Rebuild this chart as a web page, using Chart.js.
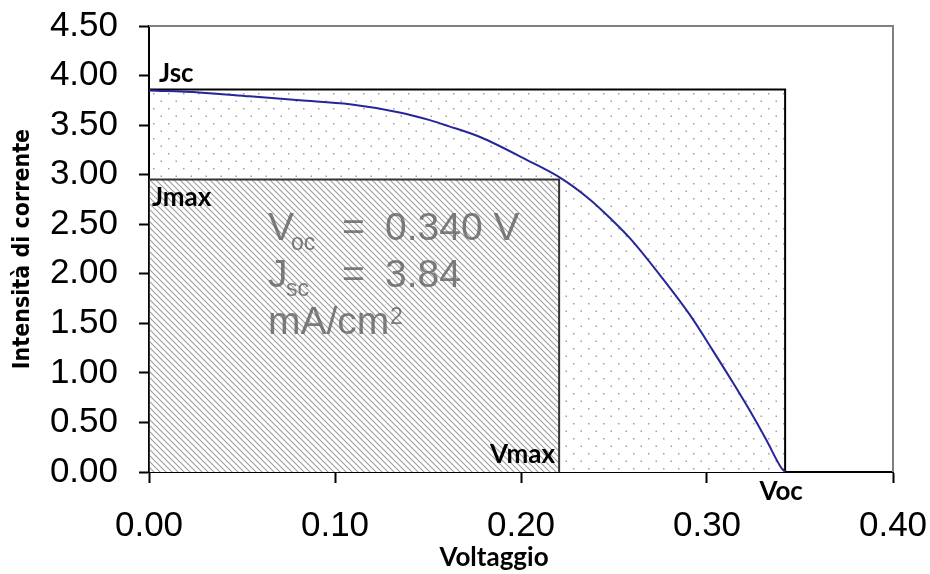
<!DOCTYPE html>
<html>
<head>
<meta charset="utf-8">
<script src="https://cdn.jsdelivr.net/npm/chart.js@4.4.1/dist/chart.umd.min.js"></script>
<style>
  html, body { margin: 0; padding: 0; background: #fff; }
  #wrap { width: 930px; height: 574px; }
</style>
</head>
<body>
<div id="wrap"><canvas id="ivChart"></canvas></div>
<script>
// curva J-V
var voltaggio = [0, 0.027, 0.054, 0.081, 0.108, 0.134, 0.151, 0.161, 0.178, 0.203, 0.221, 0.237, 0.248, 0.259, 0.275, 0.291, 0.303, 0.314, 0.323, 0.332, 0.340, 0.342];
var corrente  = [3.85, 3.83, 3.79, 3.75, 3.71, 3.63, 3.55, 3.49, 3.38, 3.15, 2.97, 2.75, 2.56, 2.35, 1.98, 1.58, 1.23, 0.90, 0.62, 0.32, 0.04, 0];

// rettangoli Jsc x Voc e Jmax x Vmax
var rettVoc = [0, 0.342];
var rettJsc = [0, 3.86];
var rettVmax = [0, 0.2205];
var rettJmax = [0, 2.95];

var xTicks = ['0.00', '0.10', '0.20', '0.30', '0.40'];
var yTicks = ['0.00', '0.50', '1.00', '1.50', '2.00', '2.50', '3.00', '3.50', '4.00', '4.50'];

function boxPoints(xs, ys) {
    return [
        { x: xs[0], y: ys[0] },
        { x: xs[0], y: ys[1] },
        { x: xs[1], y: ys[1] },
        { x: xs[1], y: ys[0] }
    ];
}

function dotPattern() {
    var c = document.createElement('canvas');
    c.width = 15; c.height = 15;
    var g = c.getContext('2d');
    g.fillStyle = '#fff';
    g.fillRect(0, 0, 15, 15);
    g.fillStyle = '#a0a0a0';
    g.fillRect(3, 3, 1.5, 1.5);
    g.fillRect(10.5, 10.5, 1.5, 1.5);
    return g.createPattern(c, 'repeat');
}

function hatchPattern() {
    var c = document.createElement('canvas');
    c.width = 6; c.height = 6;
    var g = c.getContext('2d');
    g.fillStyle = '#fff';
    g.fillRect(0, 0, 6, 6);
    g.strokeStyle = '#a0a0a0';
    g.lineWidth = 1.2;
    g.beginPath();
    g.moveTo(-1, -1); g.lineTo(7, 7);
    g.moveTo(-4, 2); g.lineTo(4, 10);
    g.moveTo(2, -4); g.lineTo(10, 4);
    g.stroke();
    return g.createPattern(c, 'repeat');
}

var labelsPlugin = {
    id: 'labelsPlugin',
    afterDraw: function (chart) {
        var ctx = chart.ctx;
        var a = chart.chartArea;
        var xs = chart.scales.x, ys = chart.scales.y;
        ctx.save();

        // bordo grigio dell'area del grafico
        ctx.strokeStyle = '#808080';
        ctx.lineWidth = 2;
        ctx.beginPath();
        ctx.moveTo(a.left, a.top);
        ctx.lineTo(a.right, a.top);
        ctx.lineTo(a.right, a.bottom);
        ctx.stroke();

        // etichette in grassetto
        ctx.fillStyle = '#000';
        ctx.font = 'bold 26px Lato';
        ctx.textBaseline = 'alphabetic';
        ctx.textAlign = 'left';
        ctx.fillText('Jsc', a.left + 10, ys.getPixelForValue(rettJsc[1]) - 7);
        ctx.fillText('Jmax', a.left + 3, ys.getPixelForValue(rettJmax[1]) + 26);
        ctx.textAlign = 'right';
        ctx.fillText('Vmax', xs.getPixelForValue(rettVmax[1]) - 4, a.bottom - 9);
        ctx.textAlign = 'center';
        ctx.fillText('Voc', xs.getPixelForValue(rettVoc[1]) - 4, a.bottom + 28);
        ctx.fillText('Voltaggio', (a.left + a.right) / 2 - 27, a.bottom + 94);

        // testo grigio grande
        ctx.fillStyle = 'rgba(95,95,95,0.8)';
        ctx.textAlign = 'left';
        var L = a.left, T = a.top;
        ctx.font = '39px "Liberation Sans"';
        ctx.fillText('V', L + 119, T + 214);
        ctx.fillText('=', L + 193, T + 214);
        ctx.fillText('0.340 V', L + 236, T + 214);
        ctx.fillText('J', L + 119, T + 261);
        ctx.fillText('=', L + 193, T + 261);
        ctx.fillText('3.84', L + 236, T + 261);
        ctx.fillText('mA/cm', L + 119, T + 308);
        ctx.font = '23px "Liberation Sans"';
        ctx.fillText('oc', L + 142, T + 224);
        ctx.fillText('sc', L + 137, T + 270);
        ctx.fillText('2', L + 241, T + 298);
        ctx.restore();
    }
};

var ctx = document.getElementById('ivChart');

var ivChart = new Chart(ctx, {
    type: 'scatter',
    data: {
        datasets: [{
            label: 'J-V',
            data: voltaggio.map(function (v, i) { return { x: v, y: corrente[i] }; }),
            showLine: true,
            fill: false,
            borderColor: '#26269a',
            borderWidth: 2,
            cubicInterpolationMode: 'monotone',
            pointRadius: 0,
            order: 0
        }, {
            label: 'Jmax x Vmax',
            data: boxPoints(rettVmax, rettJmax),
            showLine: true,
            fill: 'origin',
            backgroundColor: hatchPattern(),
            borderColor: '#333',
            borderWidth: 2,
            pointRadius: 0,
            order: 1
        }, {
            label: 'Jsc x Voc',
            data: boxPoints(rettVoc, rettJsc),
            showLine: true,
            fill: 'origin',
            backgroundColor: dotPattern(),
            borderColor: '#000',
            borderWidth: 2,
            pointRadius: 0,
            order: 2
        }]
    },
    options: {
        responsive: true,
        maintainAspectRatio: false,
        animation: false,
        layout: {
            padding: { left: 0, top: 26, right: 37, bottom: 0 }
        },
        plugins: {
            legend: { display: false },
            tooltip: { enabled: false }
        },
        scales: {
            x: {
                type: 'linear',
                min: 0,
                max: 0.4,
                afterFit: function (scale) {
                    scale.height = 102;
                    scale.paddingLeft = 0;
                    scale.paddingRight = 0;
                },
                afterBuildTicks: function (scale) {
                    scale.ticks = xTicks.map(function (t) { return { value: parseFloat(t) }; });
                },
                ticks: {
                    padding: 22,
                    color: '#000',
                    font: { family: 'Liberation Sans', size: 35 },
                    callback: function (v) { return Number(v).toFixed(2); }
                },
                grid: {
                    drawOnChartArea: false,
                    tickLength: 11,
                    tickColor: '#000',
                    tickWidth: 2
                },
                border: { color: '#000', width: 2 }
            },
            y: {
                type: 'linear',
                min: 0,
                max: 4.5,
                afterFit: function (scale) {
                    scale.width = 149;
                    scale.paddingTop = 0;
                    scale.paddingBottom = 0;
                },
                afterBuildTicks: function (scale) {
                    scale.ticks = yTicks.map(function (t) { return { value: parseFloat(t) }; });
                },
                ticks: {
                    padding: 21,
                    color: '#000',
                    font: { family: 'Liberation Sans', size: 35 },
                    callback: function (v) { return Number(v).toFixed(2); }
                },
                grid: {
                    drawOnChartArea: false,
                    tickLength: 10,
                    tickColor: '#000',
                    tickWidth: 2
                },
                border: { color: '#000', width: 2 },
                title: {
                    display: true,
                    text: 'Intensità di corrente',
                    color: '#000',
                    font: { family: "'DejaVu Sans Condensed', 'DejaVu Sans'", size: 23, weight: 'bold' },
                    padding: { top: 9, bottom: 0 }
                }
            }
        }
    },
    plugins: [labelsPlugin]
});
</script>
</body>
</html>
